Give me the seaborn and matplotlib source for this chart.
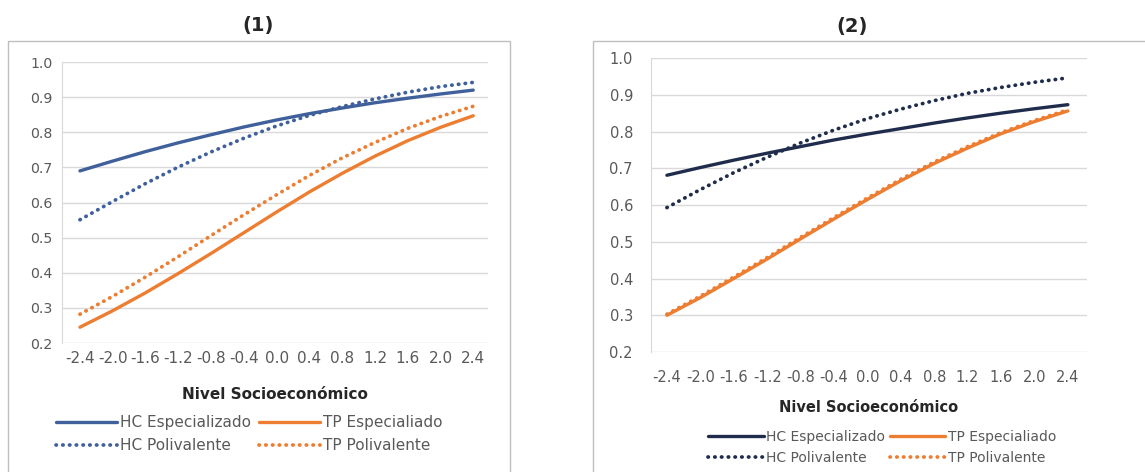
import matplotlib
matplotlib.use('Agg')
import matplotlib.pyplot as plt
import seaborn as sns
from matplotlib.patches import Rectangle

# Data (probability vs socio-economic level)
nse = [-2.4, -2.0, -1.6, -1.2, -0.8, -0.4, 0.0, 0.4, 0.8, 1.2, 1.6, 2.0, 2.4]
tick_labels = ['-2.4', '-2.0', '-1.6', '-1.2', '-0.8', '-0.4', '0.0', '0.4', '0.8', '1.2', '1.6', '2.0', '2.4']

# panel (1)
hc_esp_1 = [0.690, 0.718, 0.745, 0.770, 0.793, 0.815, 0.835, 0.853, 0.869, 0.884, 0.897, 0.909, 0.920]
hc_pol_1 = [0.551, 0.603, 0.654, 0.701, 0.744, 0.783, 0.818, 0.848, 0.873, 0.895, 0.914, 0.930, 0.942]
tp_esp_1 = [0.245, 0.292, 0.343, 0.398, 0.455, 0.514, 0.573, 0.630, 0.683, 0.732, 0.776, 0.814, 0.847]
tp_pol_1 = [0.282, 0.333, 0.388, 0.446, 0.506, 0.565, 0.622, 0.677, 0.727, 0.771, 0.811, 0.845, 0.874]

# panel (2)
hc_esp_2 = [0.681, 0.702, 0.722, 0.741, 0.759, 0.777, 0.793, 0.808, 0.823, 0.837, 0.850, 0.862, 0.873]
hc_pol_2 = [0.593, 0.642, 0.688, 0.730, 0.769, 0.804, 0.835, 0.861, 0.884, 0.904, 0.920, 0.934, 0.946]
tp_esp_2 = [0.300, 0.348, 0.400, 0.453, 0.508, 0.562, 0.615, 0.666, 0.713, 0.755, 0.794, 0.827, 0.856]
tp_pol_2 = [0.303, 0.352, 0.404, 0.457, 0.512, 0.566, 0.619, 0.670, 0.717, 0.759, 0.797, 0.830, 0.859]

names = ['HC Especializado', 'HC Polivalente', 'TP Especialiado', 'TP Polivalente']

sns.set_style('white')
plt.rcParams['font.family'] = ['DejaVu Sans']

fig = plt.figure(figsize=(11.45, 4.72), dpi=100)

grey_txt = '#595959'
orange = '#ED7D31'
dotted = (0, (0.1, 1.7))


def draw_panel(ax, series, blue, title, xlim, fs, ypad, xpad, xlabpad, tpad, leg_xy, colsp):
    # fs = (y ticks, x ticks, x label, legend)
    styles = [(blue, '-', 2.4), (blue, dotted, 2.7), (orange, '-', 2.4), (orange, dotted, 2.7)]
    for vals, name, (col, ls, w) in zip(series, names, styles):
        sns.lineplot(x=nse, y=vals, ax=ax, color=col, linestyle=ls, lw=w,
                     label=name, dash_capstyle='round')
    ax.set_ylim(0.2, 1.0)
    ax.set_xlim(*xlim)
    ax.set_yticks([0.2, 0.3, 0.4, 0.5, 0.6, 0.7, 0.8, 0.9, 1.0])
    ax.set_yticklabels(['0.2', '0.3', '0.4', '0.5', '0.6', '0.7', '0.8', '0.9', '1.0'])
    ax.set_xticks(nse)
    ax.set_xticklabels(tick_labels)
    ax.tick_params(axis='both', length=0, colors=grey_txt)
    ax.tick_params(axis='y', pad=ypad, labelsize=fs[0])
    ax.tick_params(axis='x', pad=xpad, labelsize=fs[1])
    ax.grid(axis='y', color='#D9D9D9', lw=1)
    for s in ['top', 'right', 'bottom']:
        ax.spines[s].set_visible(False)
    ax.spines['left'].set_color('#D9D9D9')
    ax.set_xlabel('Nivel Socioeconómico', fontsize=fs[2], fontweight='bold',
                  color='#262626', labelpad=xlabpad)
    ax.set_ylabel('')
    ax.set_title(title, fontsize=14, fontweight='bold', pad=tpad, x=0.46)
    ax.legend(loc='upper center', bbox_to_anchor=leg_xy, ncol=2,
              frameon=False, fontsize=fs[3], labelcolor=grey_txt,
              handlelength=4.0, handletextpad=0.2, columnspacing=colsp,
              labelspacing=0.5, borderaxespad=0, borderpad=0)


# outer chart frames
fig.add_artist(Rectangle((8 / 1145, -0.01), 502 / 1145, 1 - 41 / 472 + 0.01,
                         transform=fig.transFigure, fill=False,
                         edgecolor='#BFBFBF', lw=1))
fig.add_artist(Rectangle((593 / 1145, -0.01), 560 / 1145, 1 - 41 / 472 + 0.01,
                         transform=fig.transFigure, fill=False,
                         edgecolor='#BFBFBF', lw=1))

ax1 = fig.add_axes([0.0541, 0.2733, 0.3721, 0.5953])
draw_panel(ax1, [hc_esp_1, hc_pol_1, tp_esp_1, tp_pol_1], '#40609C', '(1)',
           (-2.62, 2.58), (10.2, 11, 11, 11), 7, 6, 15, 22, (0.44, -0.258), 0.5)

ax2 = fig.add_axes([0.5686, 0.2542, 0.3808, 0.6229])
draw_panel(ax2, [hc_esp_2, hc_pol_2, tp_esp_2, tp_pol_2], '#1F2C4C', '(2)',
           (-2.59, 2.63), (10.5, 10.5, 10.5, 10), 13, 13, 11, 19, (0.53, -0.265), 0.3)

fig.savefig('out.png', dpi=100)
